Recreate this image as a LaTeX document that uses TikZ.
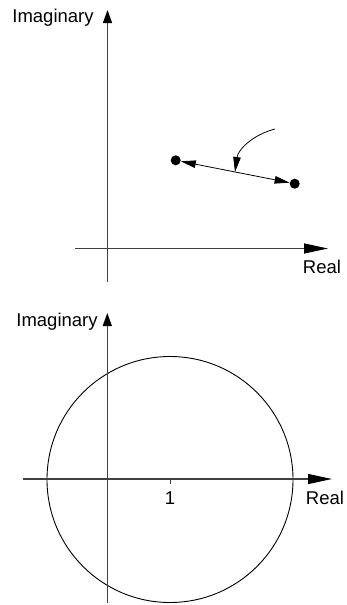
\documentclass[tikz,border=0pt]{standalone}
\usepackage{fontspec}
\setmainfont{Liberation Sans}
\usetikzlibrary{arrows.meta}
\tikzset{shead/.tip={Triangle[length=15pt,width=7.5pt]}}
\begin{document}
\begin{tikzpicture}[x=1pt,y=-1pt,
  axis/.style={draw=black!75,line width=1.2pt},
  lbl/.style={inner sep=0pt,font=\fontsize{18.5}{21}\selectfont},
  dot/.style={circle,fill=black,inner sep=0pt,minimum size=10pt},
  hhead/.style={-{Triangle[length=24pt,width=10pt,color=black]}},
  vhead/.style={-{Triangle[length=13pt,width=9pt,color=black]}}]
\useasboundingbox (0,0) rectangle (347,605);
% ---------- top diagram ----------
\coordinate (t-y0) at (107.5,282);
\coordinate (t-y1) at (107.5,10);
\coordinate (t-x0) at (75,248.5);
\coordinate (t-x1) at (328,248.5);
\draw[axis,vhead] (t-y0) -- (t-y1);
\draw[axis,hhead] (t-x0) -- (t-x1);
\node[lbl] (t-im) at (53,18) {Imaginary};
\node[lbl] (t-re) at (322,267) {Real};
\node[dot] (p1) at (175.7,160.3) {};
\node[dot] (p2) at (294.7,183.7) {};
\draw[line width=0.8pt,shead-shead] (p1) -- (p2);
\coordinate (c0) at (275,129);
\coordinate (c1) at (235,172);
\draw[line width=0.8pt,-shead] (c0) .. controls (252,135) and (238,150) .. (c1);
% ---------- bottom diagram ----------
\coordinate (b-y0) at (107.3,603);
\coordinate (b-y1) at (107.3,313);
\coordinate (b-x0) at (23,479);
\coordinate (b-x1) at (332,479);
\coordinate (b-c) at (170,479.5);
\draw[black,line width=0.9pt] (b-c) circle[radius=123];
\draw[axis,vhead] (b-y0) -- (b-y1);
\draw[axis,hhead] (b-x0) -- (b-x1);
\coordinate (tk) at (170,484);
\draw[axis,line width=0.9pt] (170,479) -- (tk);
\node[lbl] (b-one) at (170,498) {1};
\node[lbl] (b-im) at (57,322) {Imaginary};
\node[lbl] (b-re) at (325,498) {Real};
\end{tikzpicture}
\end{document}
